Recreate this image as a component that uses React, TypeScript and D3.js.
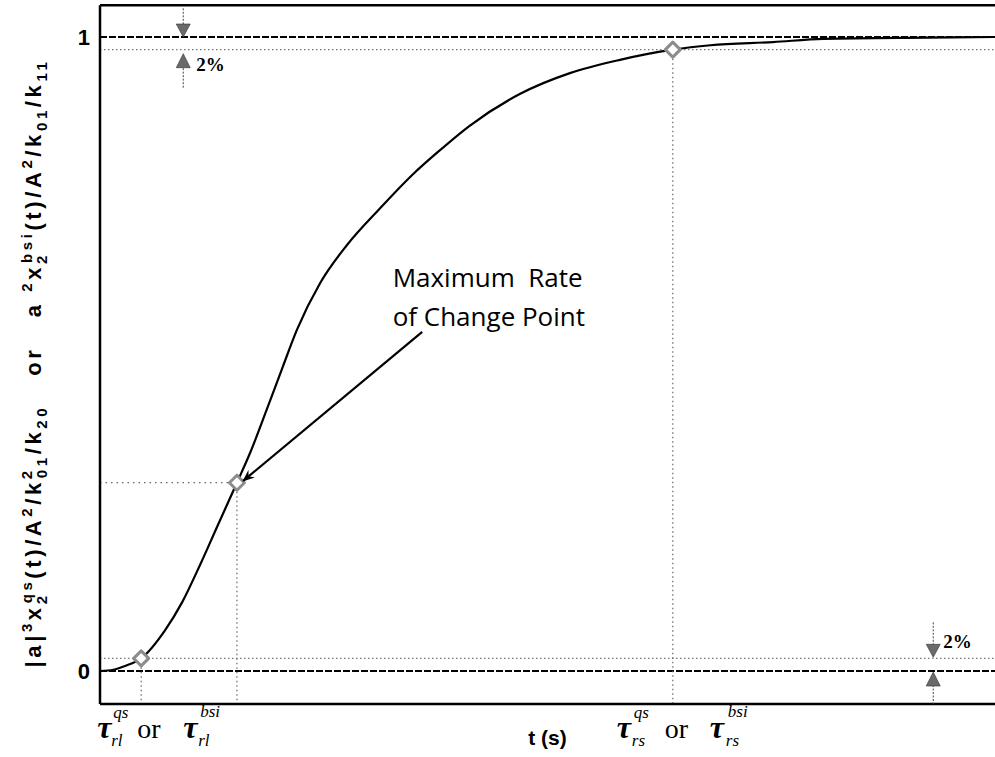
import React from "react";
import * as d3 from "d3";

// ---- data ----
const timeS = [0, 0.15, 0.28, 0.46, 0.73, 0.92, 1.12, 1.31, 1.53, 1.68, 1.87, 2.04, 2.2, 2.46, 2.76, 3.13, 3.5, 3.77, 4.13, 4.69, 5.25, 5.81, 6.4, 6.82, 7.52, 8.08, 9.24, 10];
const response = [0, 0.002, 0.008, 0.02, 0.065, 0.109, 0.168, 0.228, 0.297, 0.345, 0.415, 0.479, 0.538, 0.612, 0.672, 0.73, 0.784, 0.818, 0.86, 0.91, 0.943, 0.964, 0.98, 0.987, 0.992, 0.997, 0.999, 1];
const markerT = [0.46, 1.53, 6.4];
const markerV = [0.02, 0.297, 0.98];
const yTicks = [0, 1];
const bandLevels = [0.02, 0.98];
const tolArrowT = [0.93, 9.31];
const annotationLines = ["Maximum\u00A0 Rate", "of Change Point"];
const annotationAnchor = [3.27, 0.606];
const arrowFrom = [3.6, 0.535];
const arrowTo = [1.6, 0.3];
const xDomain = [0, 10];
const yFrame = [-0.052, 1.05];

const W = 995;
const H = 757;

export default function App() {
  const x = d3.scaleLinear().domain(xDomain).range([100, 995]);
  const y = d3.scaleLinear().domain([0, 1]).range([671, 37]);
  const pts: [number, number][] = timeS.map((t, i) => [t, response[i]]);
  const line = d3
    .line<[number, number]>()
    .x((d) => x(d[0]))
    .y((d) => y(d[1]))
    .curve(d3.curveMonotoneX);

  const left = x(xDomain[0]);
  const right = x(xDomain[1]);
  const top = y(yFrame[1]);
  const bottom = y(yFrame[0]);

  const diamond = (cx: number, cy: number, r: number) =>
    `M${cx},${cy - r}L${cx + r},${cy}L${cx},${cy + r}L${cx - r},${cy}Z`;
  const headDown = (cx: number, tip: number) =>
    `M${cx - 7},${tip - 13}L${cx + 7},${tip - 13}L${cx},${tip}Z`;
  const headUp = (cx: number, tip: number) =>
    `M${cx - 7},${tip + 14}L${cx + 7},${tip + 14}L${cx},${tip}Z`;

  const sans = "'Liberation Sans', Arial, sans-serif";
  const serif = "'Liberation Serif', 'Times New Roman', serif";

  const m1 = x(markerT[0]);
  const m3 = x(markerT[2]);
  const tauBase = 738;

  const tauGroup = (cx: number, sub: string, key: string, o: number[]) => (
    <g key={key} fontFamily={serif} fill="#000">
      <text x={cx + o[0]} y={tauBase} fontSize={32} fontStyle="italic" fontWeight="bold">τ</text>
      <text x={cx + o[1]} y={tauBase - 20} fontSize={17} fontStyle="italic">qs</text>
      <text x={cx + o[1] - 2} y={tauBase + 8} fontSize={17} fontStyle="italic">{sub}</text>
      <text x={cx + o[2]} y={tauBase} fontSize={28}>or</text>
      <text x={cx + o[3]} y={tauBase} fontSize={32} fontStyle="italic" fontWeight="bold">τ</text>
      <text x={cx + o[4]} y={tauBase - 21} fontSize={17} fontStyle="italic">bsi</text>
      <text x={cx + o[4] - 2} y={tauBase + 8} fontSize={17} fontStyle="italic">{sub}</text>
    </g>
  );

  const tx = x(tolArrowT[0]);
  const bx = x(tolArrowT[1]);

  const sup = { fontSize: 15 };

  return (
    <svg
      width={W}
      height={H}
      style={{ position: "absolute", left: 0, top: 0, background: "#fff" }}
    >
      <defs>
        <marker id="ah" viewBox="0 0 12 10" refX="11" refY="5" markerWidth="12" markerHeight="10" markerUnits="userSpaceOnUse" orient="auto">
          <path d="M0,0L12,5L0,10L4,5Z" fill="#000" />
        </marker>
      </defs>
      <rect width={W} height={H} fill="#fff" />

      {/* tolerance dotted lines */}
      {bandLevels.map((v) => (
        <line key={v} x1={left} x2={right} y1={y(v)} y2={y(v)} stroke="#777" strokeWidth={1.2} strokeDasharray="1.5 2.5" />
      ))}
      {/* 0 and 1 dashed lines */}
      {yTicks.map((v) => (
        <line key={"d" + v} x1={left} x2={right} y1={y(v)} y2={y(v)} stroke="#000" strokeWidth={2} strokeDasharray="7 2" />
      ))}

      {/* guide lines from markers */}
      {markerT.map((t, i) => (
        <line key={"v" + i} x1={x(t)} x2={x(t)} y1={y(markerV[i])} y2={bottom} stroke="#666" strokeWidth={1.2} strokeDasharray="1.5 3" />
      ))}
      <line x1={left} x2={x(markerT[1])} y1={y(markerV[1])} y2={y(markerV[1])} stroke="#666" strokeWidth={1.2} strokeDasharray="1.5 4" />

      {/* curve */}
      <path d={line(pts) || ""} fill="none" stroke="#000" strokeWidth={2.2} />

      {/* markers */}
      {markerT.map((t, i) => (
        <path key={"m" + i} d={diamond(x(t), y(markerV[i]), 7.5)} fill="#fff" stroke="#8c8c8c" strokeWidth={3} strokeLinejoin="round" />
      ))}

      {/* frame */}
      <line x1={left} x2={left} y1={top} y2={bottom} stroke="#000" strokeWidth={2.5} />
      <line x1={left} x2={right} y1={top} y2={top} stroke="#000" strokeWidth={2.5} />
      <line x1={left} x2={right} y1={bottom} y2={bottom} stroke="#000" strokeWidth={2.5} />

      {/* y tick labels */}
      {yTicks.map((v) => (
        <text key={"t" + v} x={90} y={y(v)} dy="0.36em" textAnchor="end" fontFamily={sans} fontWeight="bold" fontSize={22}>
          {v}
        </text>
      ))}

      {/* top-left 2% arrows */}
      <line x1={tx} x2={tx} y1={top + 3} y2={y(1) - 12} stroke="#444" strokeWidth={1} strokeDasharray="2 1.5" />
      <path d={headDown(tx, y(1))} fill="#6a6a6a" stroke="#333" strokeWidth={0.6} />
      <line x1={tx} x2={tx} y1={y(0.98) + 15} y2={y(0.98) + 38} stroke="#444" strokeWidth={1} strokeDasharray="2 1.5" />
      <path d={headUp(tx, y(0.98) + 4)} fill="#6a6a6a" stroke="#333" strokeWidth={0.6} />
      <text x={tx + 13} y={y(0.98) + 21} fontFamily={serif} fontWeight="bold" fontSize={19}>2%</text>

      {/* bottom-right 2% arrows */}
      <line x1={bx} x2={bx} y1={y(0.02) - 36} y2={y(0.02) - 12} stroke="#444" strokeWidth={1} strokeDasharray="2 1.5" />
      <path d={headDown(bx, y(0.02) - 1)} fill="#6a6a6a" stroke="#333" strokeWidth={0.6} />
      <line x1={bx} x2={bx} y1={y(0) + 14} y2={bottom} stroke="#444" strokeWidth={1} strokeDasharray="2 1.5" />
      <path d={headUp(bx, y(0) + 1)} fill="#6a6a6a" stroke="#333" strokeWidth={0.6} />
      <text x={bx + 10} y={y(0.02) - 10} fontFamily={serif} fontWeight="bold" fontSize={19}>2%</text>

      {/* annotation */}
      {annotationLines.map((s, i) => (
        <text key={"a" + i} x={x(annotationAnchor[0])} y={y(annotationAnchor[1]) + i * 39} fontFamily="'Open Sans', 'Noto Sans', sans-serif" fontSize={26} fill="#000">
          {s}
        </text>
      ))}
      <line x1={x(arrowFrom[0])} y1={y(arrowFrom[1])} x2={x(arrowTo[0])} y2={y(arrowTo[1])} stroke="#000" strokeWidth={2.2} markerEnd="url(#ah)" />

      {/* bottom labels */}
      {tauGroup(m1, "rl", "g1", [-44, -28, -4, 42, 59])}
      {tauGroup(m3, "rs", "g2", [-56, -39, -8, 37, 55])}
      <text x={x(5)} y={745} textAnchor="middle" fontFamily={sans} fontWeight="bold" fontSize={21}>
        t (s)
      </text>

      {/* y-axis label */}
      <text
        transform={`translate(41, ${(y(1) + y(0)) / 2 + 9}) rotate(-90)`}
        textAnchor="middle"
        fontFamily={sans}
        fontWeight="bold"
        fontSize={22}
        letterSpacing={3.6}
      >
        <tspan>|a|</tspan>
        <tspan {...sup} dy={-9}>3</tspan>
        <tspan dy={9}>x</tspan>
        <tspan {...sup} dy={6}>2</tspan>
        <tspan {...sup} dx={-11} dy={-15}>qs</tspan>
        <tspan dy={9}>(t)/A</tspan>
        <tspan {...sup} dy={-9}>2</tspan>
        <tspan dy={9}>/k</tspan>
        <tspan {...sup} dy={-9}>2</tspan>
        <tspan {...sup} dx={-11} dy={15}>01</tspan>
        <tspan dy={-6}>/k</tspan>
        <tspan {...sup} dy={6}>20</tspan>
        <tspan dy={-6}>{"\u00A0\u00A0\u00A0or\u00A0\u00A0\u00A0a\u00A0"}</tspan>
        <tspan {...sup} dy={-9}>2</tspan>
        <tspan dy={9}>x</tspan>
        <tspan {...sup} dy={6}>2</tspan>
        <tspan {...sup} dx={-11} dy={-15}>bsi</tspan>
        <tspan dy={9}>(t)/A</tspan>
        <tspan {...sup} dy={-9}>2</tspan>
        <tspan dy={9}>/k</tspan>
        <tspan {...sup} dy={6}>01</tspan>
        <tspan dy={-6}>/k</tspan>
        <tspan {...sup} dy={6}>11</tspan>
      </text>
    </svg>
  );
}
